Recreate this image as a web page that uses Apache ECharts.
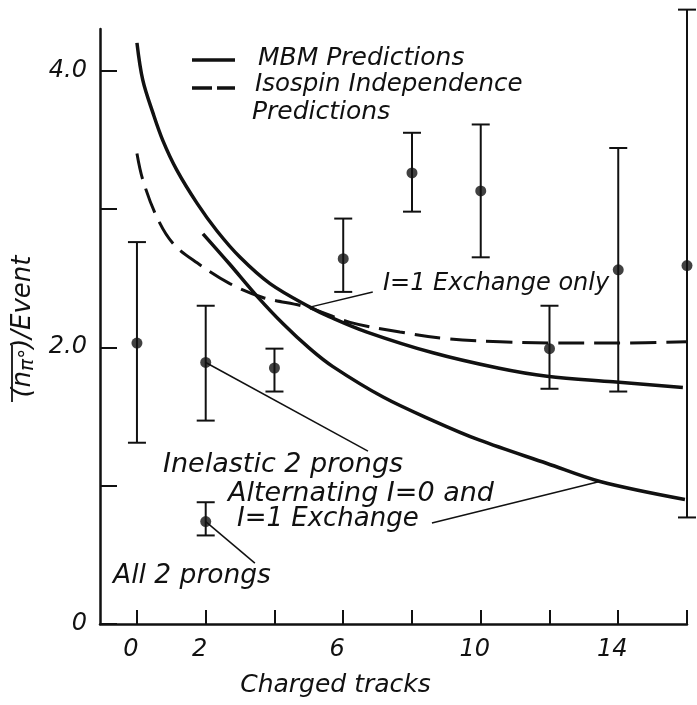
<!DOCTYPE html>
<html>
<head>
<meta charset="utf-8">
<script src="https://cdn.jsdelivr.net/npm/echarts@6/dist/echarts.min.js"></script>
<style>
  html, body { margin: 0; padding: 0; background: #fff; }
  #chart { width: 697px; height: 705px; }
</style>
</head>
<body>
<div id="chart"></div>
<script>
// Measured neutral-pion multiplicity per event vs. number of charged tracks
const tracks   = [0, 2, 4, 6, 8, 10, 12, 14, 16];
const nPi0     = [2.03, 1.89, 1.85, 2.64, 3.26, 3.13, 1.99, 2.56, 2.59];
const errHigh  = [2.76, 2.30, 1.99, 2.93, 3.55, 3.61, 2.30, 3.44, 4.44];
const errLow   = [1.31, 1.47, 1.68, 2.40, 2.98, 2.65, 1.70, 1.68, 0.77];

// "All 2 prongs" point
const allProngX    = [2];
const allProngY    = [0.74];
const allProngHigh = [0.88];
const allProngLow  = [0.64];

// MBM prediction, I=1 exchange only
const mbmX = [0, 0.17, 0.47, 0.76, 1.16, 1.75, 2.33, 3.0, 3.87, 5.03, 5.61, 6.69, 8.61, 10.5, 11.93, 13.85, 15.88];
const mbmY = [4.20, 3.93, 3.69, 3.49, 3.28, 3.04, 2.84, 2.65, 2.46, 2.29, 2.22, 2.11, 1.96, 1.85, 1.79, 1.75, 1.71];

// MBM prediction, alternating I=0 and I=1 exchange
const altX = [1.92, 2.7, 3.49, 4.25, 5.03, 5.7, 7.16, 8.61, 9.95, 11.93, 13.47, 15.94];
const altY = [2.82, 2.60, 2.37, 2.17, 1.99, 1.86, 1.64, 1.47, 1.33, 1.16, 1.03, 0.90];

// Isospin independence prediction
const isoX = [0, 0.17, 0.58, 1.05, 1.75, 2.7, 3.66, 4.94, 6.2, 7.65, 9.1, 10.56, 12, 14, 16];
const isoY = [3.40, 3.21, 2.94, 2.75, 2.61, 2.46, 2.36, 2.29, 2.18, 2.11, 2.06, 2.04, 2.03, 2.03, 2.04];

// Axis ticks and labels
const xTicks  = [0, 2, 4, 6, 8, 10, 12, 14, 16];
const xLabels = [0, 2, 6, 10, 14];
const yTicks  = [0, 1, 2, 3, 4];
const yLabels = [0, 2, 4];

// Leader lines for annotations: [from, to] in data units
const leaderExchangeOnly = [[5.03, 2.29], [6.86, 2.40]];
const leaderInelastic    = [[2, 1.89], [6.72, 1.25]];
const leaderAlternating  = [[13.46, 1.03], [8.58, 0.73]];
const leaderAllProngs    = [[2, 0.74], [3.43, 0.44]];

const INK = '#111';
const FONT = 'DejaVu Sans';

const zip = (a, b) => a.map((v, i) => [v, b[i]]);

function errorBarItem(params, api) {
  const x = api.value(0);
  const top = api.coord([x, api.value(2)]);
  const bot = api.coord([x, api.value(1)]);
  const hw = 9;
  const st = { stroke: INK, lineWidth: 2 };
  return {
    type: 'group',
    children: [
      { type: 'line', shape: { x1: top[0], y1: top[1], x2: bot[0], y2: bot[1] }, style: st },
      { type: 'line', shape: { x1: top[0] - hw, y1: top[1], x2: top[0] + hw, y2: top[1] }, style: st },
      { type: 'line', shape: { x1: bot[0] - hw, y1: bot[1], x2: bot[0] + hw, y2: bot[1] }, style: st }
    ]
  };
}

const curveBase = {
  type: 'line', symbol: 'none', smooth: 0.35,
  silent: true, z: 2
};
const leaderBase = {
  type: 'line', symbol: 'none', silent: true, z: 3,
  lineStyle: { color: INK, width: 1.5 }
};
const note = (t, x, y, size) => ({
  type: 'text', left: x, top: y - size / 2,
  style: { text: t, fill: INK, font: 'italic ' + size + 'px "' + FONT + '"' }
});

const chart = echarts.init(document.getElementById('chart'));
chart.setOption({
  animation: false,
  backgroundColor: '#fff',
  grid: { left: 100, right: 10, top: 29, bottom: 81 },
  xAxis: {
    type: 'value', min: -1.075, max: 16,
    axisLine: { onZero: false, lineStyle: { color: INK, width: 2.5 } },
    axisTick: { inside: true, length: 14, customValues: xTicks, lineStyle: { color: INK, width: 2 } },
    axisLabel: {
      customValues: xLabels, margin: 14, color: INK, fontSize: 24,
      fontStyle: 'italic', fontFamily: FONT, padding: [0, 12, 0, 0]
    },
    splitLine: { show: false },
    name: 'Charged tracks', nameLocation: 'middle', nameGap: 49,
    nameTextStyle: { color: INK, fontSize: 25, fontStyle: 'italic', fontFamily: FONT, padding: [0, 116, 0, 0] }
  },
  yAxis: {
    type: 'value', min: 0, max: 4.3,
    axisLine: { onZero: false, lineStyle: { color: INK, width: 2.5 } },
    axisTick: { inside: true, length: 17, customValues: yTicks, lineStyle: { color: INK, width: 2 } },
    axisLabel: {
      customValues: yLabels, margin: 13, color: INK, fontSize: 24,
      fontStyle: 'italic', fontFamily: FONT,
      formatter: v => (v === 0 ? '0' : v.toFixed(1))
    },
    splitLine: { show: false },
    name: '(n{s|\u03C0\u00B0})/Event',
    nameLocation: 'middle', nameRotate: 90, nameGap: 48,
    nameTextStyle: {
      color: INK, fontSize: 26, fontStyle: 'italic', fontFamily: FONT,
      rich: { s: { fontSize: 20, fontStyle: 'italic', fontFamily: FONT, color: INK, padding: [9, 0, 0, 0] } }
    }
  },
  graphic: [
    // legend samples
    { type: 'line', shape: { x1: 192, y1: 60, x2: 235, y2: 60 }, style: { stroke: INK, lineWidth: 3.5 } },
    { type: 'line', shape: { x1: 192, y1: 88, x2: 235, y2: 88 }, style: { stroke: INK, lineWidth: 3.5, lineDash: [20, 5] } },
    // overline of the averaged multiplicity symbol
    { type: 'line', shape: { x1: 12, y1: 345, x2: 12, y2: 402 }, style: { stroke: INK, lineWidth: 1.8 } },
    note('MBM Predictions', 258, 58, 25),
    note('Isospin Independence', 255, 84, 24.5),
    note('Predictions', 252, 112, 25),
    note('I=1 Exchange only', 383, 284, 24),
    note('Inelastic 2 prongs', 163, 465, 27),
    note('Alternating I=0 and', 228, 494, 27),
    note('I=1 Exchange', 237, 519, 26),
    note('All 2 prongs', 113, 576, 26.5)
  ],
  series: [
    Object.assign({}, curveBase, { name: 'MBM Predictions', data: zip(mbmX, mbmY), lineStyle: { color: INK, width: 3.5 } }),
    Object.assign({}, curveBase, { name: 'MBM Alternating', data: zip(altX, altY), lineStyle: { color: INK, width: 3.5 } }),
    Object.assign({}, curveBase, { name: 'Isospin Independence Predictions', data: zip(isoX, isoY), lineStyle: { color: INK, width: 3, type: [26, 10] } }),
    Object.assign({}, leaderBase, { data: leaderExchangeOnly }),
    Object.assign({}, leaderBase, { data: leaderInelastic }),
    Object.assign({}, leaderBase, { data: leaderAlternating }),
    Object.assign({}, leaderBase, { data: leaderAllProngs }),
    {
      type: 'custom', renderItem: errorBarItem, clip: false, silent: true, z: 4,
      data: tracks.map((x, i) => [x, errLow[i], errHigh[i]]).concat(
        allProngX.map((x, i) => [x, allProngLow[i], allProngHigh[i]]))
    },
    {
      type: 'scatter', symbol: 'circle', symbolSize: 11, silent: true, z: 5,
      itemStyle: { color: INK },
      data: zip(tracks, nPi0).concat(zip(allProngX, allProngY))
    }
  ]
});
</script>
</body>
</html>
